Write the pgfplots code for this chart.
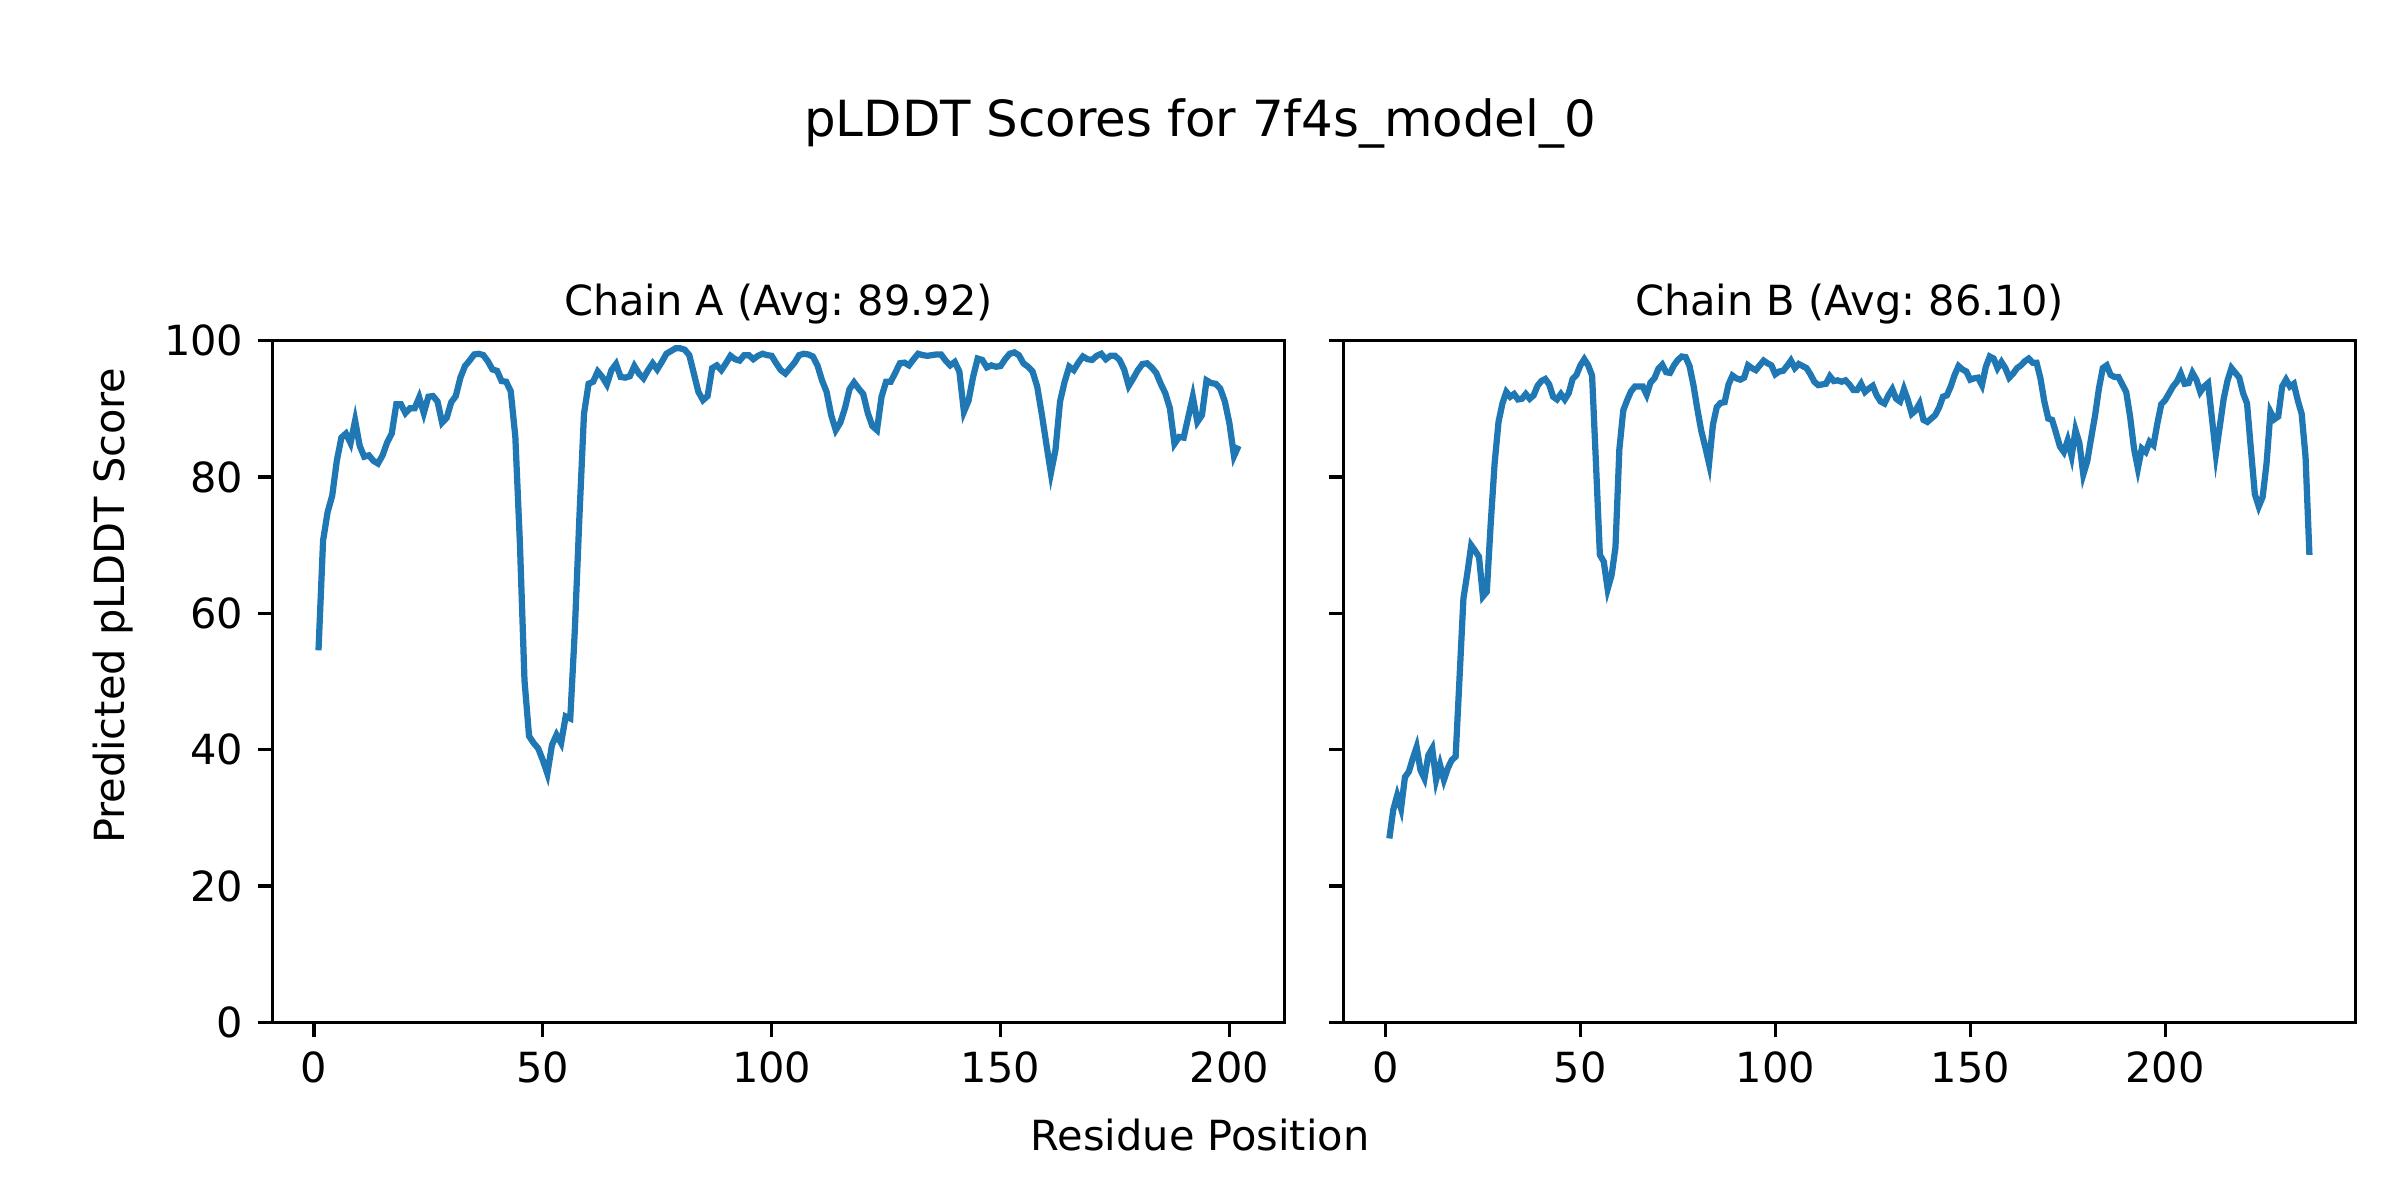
\documentclass[border=0pt]{standalone}
\usepackage{fontspec}
\setmainfont{DejaVu Sans}
\usepackage{pgfplots}
\pgfplotsset{compat=1.18}
\definecolor{mplblue}{RGB}{31,119,180}
\frenchspacing
\pgfplotsset{
  mpl/.style={
    scale only axis,
    width=242.9bp, height=163.6bp,
    anchor=south west,
    ymin=0, ymax=100,
    ytick={0,20,40,60,80,100},
    xtick={0,50,100,150,200},
    tick align=outside,
    major tick length=3.5bp,
    xtick pos=left, ytick pos=left,
    every tick/.style={black, line width=0.8bp},
    axis line style={line width=0.8bp},
    tick label style={font=\fontsize{10}{12}\selectfont},
    /pgf/number format/assume math mode=true,
    every axis title/.style={at={(0.5,1)}, anchor=base, yshift=6bp, font=\fontsize{10}{12}\selectfont},
  }
}
\begin{document}
\frenchspacing
\begin{tikzpicture}
\path[use as bounding box] (0,0) rectangle (576bp,288bp);
\node[anchor=base, font=\fontsize{12}{14}\selectfont] at (288bp,255.3bp) {pLDDT Scores for 7f4s\_model\_0};
\node[anchor=base, font=\fontsize{10}{12}\selectfont] at (288bp,11.8bp) {Residue Position};
\node[rotate=90, anchor=base, font=\fontsize{10}{12}\selectfont] at (29.8bp,142.6bp) {Predicted pLDDT Score};

\begin{axis}[mpl, at={(65.4bp,42.6bp)}, xmin=-9.05, xmax=212.05, title={Chain A (Avg: 89.92)}]
\addplot[mplblue, line width=1.5bp] coordinates {
(1,54.6)(2,70.7)(3,74.9)(4,77.3)(5,82.4)(6,85.8)(7,86.4)(8,85.0)(9,88.3)(10,84.6)
(11,83.0)(12,83.2)(13,82.4)(14,82.0)(15,83.2)(16,85.1)(17,86.4)(18,90.7)(19,90.7)(20,89.4)
(21,90.1)(22,90.1)(23,91.7)(24,89.4)(25,91.8)(26,91.9)(27,91.1)(28,88.0)(29,88.7)(30,91.0)
(31,91.9)(32,94.6)(33,96.3)(34,97.1)(35,98.0)(36,98.1)(37,97.9)(38,97.0)(39,95.8)(40,95.6)
(41,94.1)(42,94.0)(43,92.6)(44,85.9)(45,70.3)(46,50.2)(47,42.0)(48,41.0)(49,40.2)(50,38.5)
(51,36.5)(52,40.7)(53,42.2)(54,41.0)(55,44.9)(56,44.6)(57,57.6)(58,74.2)(59,89.3)(60,93.7)
(61,94.0)(62,95.5)(63,94.7)(64,93.6)(65,95.7)(66,96.6)(67,94.7)(68,94.6)(69,94.8)(70,96.3)
(71,95.2)(72,94.5)(73,95.7)(74,96.7)(75,95.8)(76,96.9)(77,98.1)(78,98.5)(79,98.9)(80,98.9)
(81,98.7)(82,97.9)(83,95.2)(84,92.5)(85,91.3)(86,91.9)(87,96.0)(88,96.4)(89,95.7)(90,96.7)
(91,97.8)(92,97.3)(93,97.1)(94,97.9)(95,97.9)(96,97.3)(97,97.8)(98,98.1)(99,97.9)(100,97.8)
(101,96.7)(102,95.7)(103,95.2)(104,96.0)(105,96.8)(106,97.9)(107,98.1)(108,98.0)(109,97.7)(110,96.4)
(111,94.2)(112,92.5)(113,89.1)(114,86.9)(115,88.0)(116,90.1)(117,92.9)(118,93.9)(119,93.0)(120,92.2)
(121,89.4)(122,87.5)(123,86.9)(124,91.8)(125,94.0)(126,94.0)(127,95.3)(128,96.7)(129,96.8)(130,96.4)
(131,97.3)(132,98.1)(133,97.9)(134,97.8)(135,97.9)(136,98.0)(137,98.0)(138,97.1)(139,96.4)(140,96.9)
(141,95.5)(142,89.6)(143,91.2)(144,94.7)(145,97.4)(146,97.2)(147,96.1)(148,96.4)(149,96.2)(150,96.3)
(151,97.3)(152,98.1)(153,98.3)(154,97.9)(155,96.7)(156,96.2)(157,95.5)(158,93.3)(159,89.3)(160,84.9)
(161,80.6)(162,84.0)(163,91.1)(164,94.0)(165,96.2)(166,95.7)(167,96.8)(168,97.7)(169,97.3)(170,97.2)
(171,97.8)(172,98.1)(173,97.3)(174,97.8)(175,97.8)(176,97.2)(177,95.8)(178,93.4)(179,94.5)(180,95.7)
(181,96.6)(182,96.7)(183,96.1)(184,95.3)(185,93.7)(186,92.3)(187,90.1)(188,84.9)(189,85.9)(190,85.8)
(191,88.8)(192,91.8)(193,88.1)(194,89.1)(195,94.2)(196,93.8)(197,93.7)(198,93.0)(199,91.1)(200,87.9)
(201,83.1)(202,84.6)
};
\end{axis}

\begin{axis}[mpl, at={(322.4bp,42.6bp)}, xmin=-10.8, xmax=248.8, yticklabels={}, title={Chain B (Avg: 86.10)}]
\addplot[mplblue, line width=1.5bp] coordinates {
(1,27.0)(2,31.2)(3,33.3)(4,31.4)(5,36.0)(6,36.8)(7,38.7)(8,40.4)(9,37.0)(10,35.8)
(11,39.2)(12,40.2)(13,35.6)(14,37.8)(15,35.6)(16,37.3)(17,38.5)(18,39.0)(19,50.5)(20,62.2)
(21,65.9)(22,70.0)(23,69.2)(24,68.3)(25,62.5)(26,63.2)(27,73.2)(28,82.0)(29,88.1)(30,90.8)
(31,92.5)(32,91.8)(33,92.2)(34,91.4)(35,91.5)(36,92.2)(37,91.5)(38,92.0)(39,93.4)(40,94.1)
(41,94.4)(42,93.6)(43,91.8)(44,91.4)(45,92.2)(46,91.4)(47,92.3)(48,94.4)(49,95.0)(50,96.4)
(51,97.3)(52,96.4)(53,94.9)(54,82.0)(55,68.6)(56,67.6)(57,63.6)(58,65.6)(59,69.7)(60,84.1)
(61,89.8)(62,91.3)(63,92.6)(64,93.3)(65,93.3)(66,93.3)(67,92.1)(68,93.9)(69,94.5)(70,95.9)
(71,96.5)(72,95.4)(73,95.3)(74,96.4)(75,97.2)(76,97.7)(77,97.6)(78,96.3)(79,93.5)(80,90.0)
(81,86.8)(82,84.5)(83,82.0)(84,87.7)(85,90.3)(86,90.9)(87,91.0)(88,93.6)(89,94.9)(90,94.5)
(91,94.3)(92,94.6)(93,96.4)(94,96.0)(95,95.7)(96,96.4)(97,97.1)(98,96.7)(99,96.4)(100,95.1)
(101,95.5)(102,95.6)(103,96.3)(104,97.1)(105,96.0)(106,96.6)(107,96.3)(108,96.0)(109,95.1)(110,94.0)
(111,93.5)(112,93.6)(113,93.7)(114,94.8)(115,94.1)(116,94.2)(117,94.0)(118,94.2)(119,93.6)(120,92.8)
(121,92.8)(122,93.7)(123,92.5)(124,93.0)(125,93.4)(126,92.0)(127,91.1)(128,90.8)(129,92.0)(130,92.9)
(131,91.5)(132,91.1)(133,92.9)(134,91.3)(135,89.3)(136,89.8)(137,90.8)(138,88.4)(139,88.1)(140,88.6)
(141,89.1)(142,90.2)(143,91.8)(144,92.0)(145,93.3)(146,95.0)(147,96.3)(148,95.8)(149,95.5)(150,94.3)
(151,94.5)(152,94.6)(153,93.5)(154,96.2)(155,97.7)(156,97.4)(157,96.0)(158,96.9)(159,96.0)(160,94.6)
(161,95.2)(162,96.0)(163,96.4)(164,97.0)(165,97.4)(166,96.8)(167,96.8)(168,94.5)(169,91.1)(170,88.6)
(171,88.4)(172,86.5)(173,84.5)(174,83.7)(175,85.4)(176,83.1)(177,86.9)(178,85.0)(179,80.4)(180,82.3)
(181,85.7)(182,89.0)(183,93.0)(184,96.0)(185,96.4)(186,95.0)(187,94.7)(188,94.7)(189,93.6)(190,92.5)
(191,88.9)(192,84.2)(193,81.3)(194,84.2)(195,83.7)(196,85.2)(197,84.7)(198,87.9)(199,90.7)(200,91.3)
(201,92.3)(202,93.3)(203,94.0)(204,95.2)(205,93.7)(206,93.8)(207,95.3)(208,94.3)(209,92.5)(210,93.3)
(211,93.8)(212,88.6)(213,83.4)(214,87.4)(215,91.5)(216,94.2)(217,96.0)(218,95.3)(219,94.6)(220,92.3)
(221,90.8)(222,84.0)(223,77.5)(224,75.7)(225,77.1)(226,82.0)(227,89.6)(228,88.5)(229,88.9)(230,93.3)
(231,94.3)(232,93.3)(233,93.7)(234,91.3)(235,89.3)(236,83.0)(237,68.6)
};
\end{axis}
\end{tikzpicture}
\end{document}
